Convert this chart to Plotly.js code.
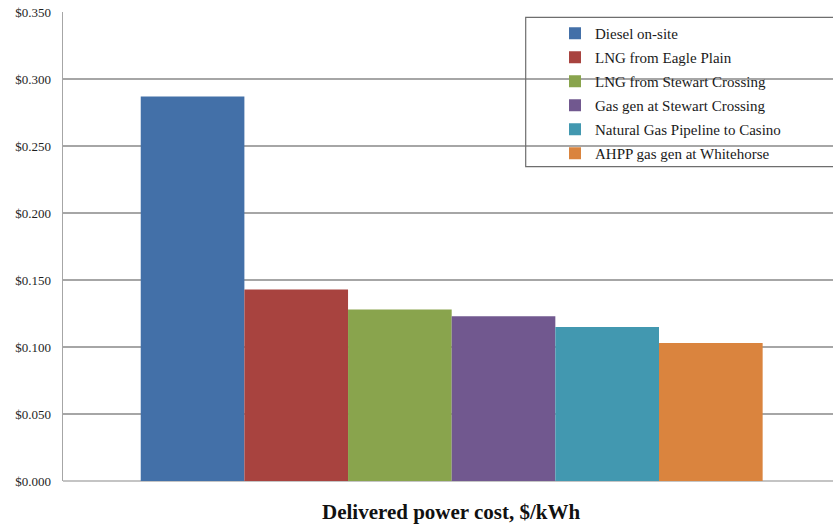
<!DOCTYPE html>
<html>
<head>
<meta charset="utf-8">
<script src="https://cdn.plot.ly/plotly-3.0.1.min.js"></script>
<style>
  html, body { margin: 0; padding: 0; background: #ffffff; overflow: hidden; }
  #chart { width: 833px; height: 531px; }
</style>
</head>
<body>
<div id="chart"></div>
<script>
// Delivered power cost per option, $/kWh
const options = [
  "Diesel on-site",
  "LNG from Eagle Plain",
  "LNG from Stewart Crossing",
  "Gas gen at Stewart Crossing",
  "Natural Gas Pipeline to Casino",
  "AHPP gas gen at Whitehorse"
];
const costs = [0.287, 0.143, 0.128, 0.123, 0.115, 0.103];
const colors = ["#4370a8", "#a8433f", "#89a44d", "#71588f", "#4298b0", "#da843e"];
const category = [""];
const yTicks = [0, 0.05, 0.10, 0.15, 0.20, 0.25, 0.30, 0.35];

const serif = "Liberation Serif, Times New Roman, serif";

const traces = options.map((name, i) => ({
  type: "bar",
  name: name,
  x: category,
  y: [costs[i]],
  marker: { color: colors[i], line: { width: 0 } },
  legendgroup: "g" + i,
  hoverinfo: "name+y"
}));

// plot area runs from x=63 px to past the right edge of the page
const L = 63, W = 833, B = 481, H = 469;
const px = v => (v - L) / (W - L);
const py = v => (B - v) / H;

const layout = {
  width: 833,
  height: 531,
  margin: { l: L, r: 0, t: 12, b: 50 },
  paper_bgcolor: "#ffffff",
  plot_bgcolor: "#ffffff",
  barmode: "group",
  bargap: 0.2,
  bargroupgap: 0,
  showlegend: true,
  legend: {
    x: px(555), xanchor: "left",
    y: py(17), yanchor: "top",
    yref: "paper",
    font: { family: serif, size: 15, color: "#1a1a1a" },
    bgcolor: "rgba(0,0,0,0)",
    borderwidth: 0,
    tracegroupgap: 1.5,
    itemclick: false
  },
  xaxis: {
    range: [-0.5, 0.4905],
    showticklabels: false,
    ticks: "",
    showgrid: false,
    showline: false,
    zeroline: false,
    fixedrange: true
  },
  yaxis: {
    range: [0, 0.35],
    tickvals: yTicks,
    tickformat: "$.3f",
    ticks: "",
    ticklabelstandoff: 8,
    tickfont: { family: serif, size: 13, color: "#1e1e1e" },
    showgrid: true,
    gridcolor: "#a6a6a6",
    gridwidth: 1.5,
    showline: true,
    linecolor: "#a6a6a6",
    linewidth: 1.5,
    zeroline: true,
    zerolinecolor: "#c4c4c4",
    zerolinewidth: 1.5,
    fixedrange: true
  },
  shapes: [
    {
      type: "rect", xref: "paper", yref: "paper",
      x0: px(525.7), x1: px(845),
      y0: py(166.7), y1: py(17.3),
      line: { color: "#6e6e6e", width: 1.2 },
      fillcolor: "rgba(255,255,255,0)",
      layer: "above"
    }
  ],
  annotations: [
    {
      text: "Delivered power cost, $/kWh",
      xref: "x", x: 0,
      yref: "paper", y: py(512), yanchor: "middle",
      showarrow: false,
      font: { family: serif, size: 21, color: "#111111", weight: "bold" }
    }
  ]
};

Plotly.newPlot("chart", traces, layout, { displayModeBar: false, staticPlot: true });
</script>
</body>
</html>
